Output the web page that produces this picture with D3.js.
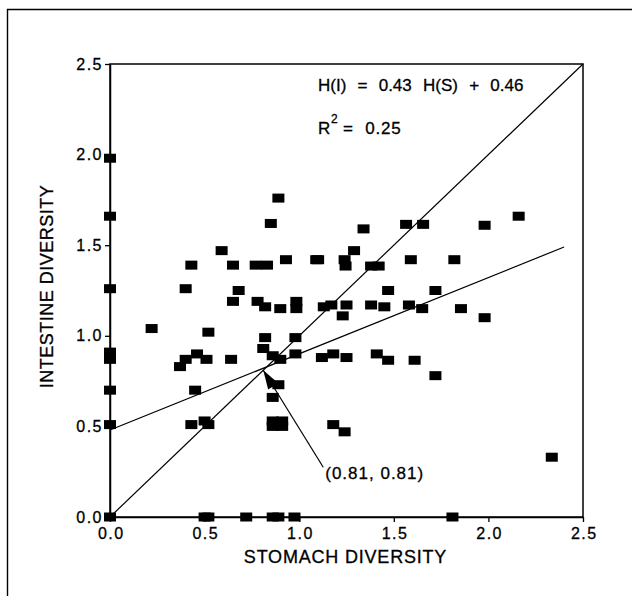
<!DOCTYPE html>
<html>
<head>
<meta charset="utf-8">
<script src="https://cdn.jsdelivr.net/npm/d3@7"></script>
<style>
  html, body { margin: 0; padding: 0; background: #fff; }
  svg { display: block; }
  text { font-family: "Liberation Sans", Arial, Helvetica, sans-serif; fill: #000; stroke: #000; stroke-width: 0.3px; }
</style>
</head>
<body>
<svg id="chart" width="632" height="596"></svg>
<script>
// ---- data ----
const stomach = [
  0, 0, 0, 0, 0, 0, 0, 0,
  0.50, 0.52, 0.72, 0.86, 0.89, 0.975, 1.81,
  0.89, 0.85, 0.59, 0.43, 0.65, 0.77, 0.83, 0.93, 1.09,
  0.40, 0.68, 0.65, 0.78, 0.82, 0.90, 0.985, 0.985,
  0.22, 0.52, 0.82, 0.98,
  0.37, 0.40, 0.46, 0.51, 0.64,
  0.81, 0.86, 0.90, 0.98,
  0.89, 0.86, 0.45,
  0.43, 0.50, 0.52,
  0.86, 0.91, 0.86, 0.91,
  1.34, 1.565, 1.655, 1.98, 2.16,
  1.29, 1.10, 1.24, 1.245, 1.38, 1.42, 1.59, 1.82,
  1.47, 1.72,
  1.13, 1.17, 1.25, 1.23, 1.38, 1.45, 1.58, 1.65, 1.855, 1.98,
  1.12, 1.18, 1.25, 1.41, 1.47, 1.61, 1.72,
  1.18, 1.24, 2.335
];
const intestine = [
  1.98, 1.66, 1.26, 0.91, 0.87, 0.70, 0.51, 0.0,
  0, 0, 0, 0, 0, 0, 0,
  1.76, 1.62, 1.47, 1.39, 1.39, 1.39, 1.39, 1.42, 1.42,
  1.26, 1.25, 1.19, 1.19, 1.16, 1.15, 1.19, 1.15,
  1.04, 1.02, 0.99, 0.99,
  0.83, 0.87, 0.90, 0.87, 0.87,
  0.93, 0.89, 0.87, 0.90,
  0.73, 0.66, 0.70,
  0.51, 0.53, 0.51,
  0.53, 0.53, 0.50, 0.50,
  1.59, 1.615, 1.615, 1.61, 1.66,
  1.47, 1.42, 1.42, 1.385, 1.385, 1.385, 1.42, 1.42,
  1.25, 1.25,
  1.16, 1.17, 1.17, 1.11, 1.17, 1.16, 1.17, 1.15, 1.15, 1.10,
  0.88, 0.90, 0.88, 0.90, 0.865, 0.865, 0.78,
  0.51, 0.47, 0.33
];
const tickValues = [0, 0.5, 1.0, 1.5, 2.0, 2.5];
const tickLabels = ["0.0", "0.5", "1.0", "1.5", "2.0", "2.5"];
const identityLine = [[0, 0], [2.5, 2.5]];
const regressionLine = [[0, 0.48], [2.4, 1.49]];
const equationText = "H(I) = 0.43 H(S) + 0.46";
const r2Value = "= 0.25";
const meanPoint = [0.81, 0.81];
const meanLabel = "(0.81, 0.81)";
const xTitle = "STOMACH DIVERSITY";
const yTitle = "INTESTINE DIVERSITY";

// ---- layout ----
const svg = d3.select("#chart");
svg.append("rect").attr("width", 632).attr("height", 596).attr("fill", "#fff");

// outer frame (only top & left visible)
svg.append("path")
  .attr("d", "M7.5,596 L7.5,9.5 L632,9.5")
  .attr("fill", "none").attr("stroke", "#000").attr("stroke-width", 1.4);

const L = 110, R = 583, T = 64, B = 517;
const x = d3.scaleLinear().domain([0, 2.5]).range([L, R]);
const y = d3.scaleLinear().domain([0, 2.5]).range([B, T]);

// plot box
svg.append("rect")
  .attr("x", L).attr("y", T).attr("width", R - L).attr("height", B - T)
  .attr("fill", "none").attr("stroke", "#000").attr("stroke-width", 1.5);

const fmt = (d, i) => tickLabels[i];

const xAxis = svg.append("g")
  .attr("transform", `translate(0,${B})`)
  .call(d3.axisBottom(x).tickValues(tickValues).tickFormat(fmt).tickSize(5).tickPadding(6).tickSizeOuter(0));
const yAxis = svg.append("g")
  .attr("transform", `translate(${L},0)`)
  .call(d3.axisLeft(y).tickValues(tickValues).tickFormat(fmt).tickSize(5).tickPadding(2).tickSizeOuter(0));

[xAxis, yAxis].forEach(g => {
  g.select(".domain").attr("stroke", "#000").attr("stroke-width", 1.5);
  g.selectAll(".tick line").attr("stroke", "#000").attr("stroke-width", 1.3);
  g.selectAll(".tick text")
    .attr("font-family", "Liberation Sans, Arial, sans-serif")
    .attr("font-size", 16)
    .attr("letter-spacing", "1.5px")
    .attr("fill", "#000");
});
xAxis.selectAll(".tick text").attr("dx", "0.75px");

// lines
const line = d3.line().x(d => x(d[0])).y(d => y(d[1]));
svg.append("path").attr("d", line(identityLine))
  .attr("fill", "none").attr("stroke", "#000").attr("stroke-width", 1.2);
svg.append("path").attr("d", line(regressionLine))
  .attr("fill", "none").attr("stroke", "#000").attr("stroke-width", 1.2);

// points
const mw = 12, mh = 9;
svg.append("g").selectAll("rect")
  .data(stomach.map((s, i) => [s, intestine[i]]))
  .join("rect")
  .attr("x", d => x(d[0]) - mw / 2)
  .attr("y", d => y(d[1]) - mh / 2)
  .attr("width", mw).attr("height", mh)
  .attr("fill", "#000");

// annotation arrow
const tip = [x(meanPoint[0]), y(meanPoint[1])];
const tail = [tip[0] + 60, tip[1] + 97];
svg.append("line")
  .attr("x1", tip[0]).attr("y1", tip[1]).attr("x2", tail[0]).attr("y2", tail[1])
  .attr("stroke", "#000").attr("stroke-width", 1.2);
{
  const dx = tail[0] - tip[0], dy = tail[1] - tip[1];
  const len = Math.hypot(dx, dy);
  const ux = dx / len, uy = dy / len;
  const hl = 19, hw = 6;
  const bx = tip[0] + ux * hl, by = tip[1] + uy * hl;
  svg.append("path")
    .attr("d", `M${tip[0]},${tip[1]} L${bx - uy * hw},${by + ux * hw} L${bx + uy * hw},${by - ux * hw} Z`)
    .attr("fill", "#000");
}
svg.append("text")
  .attr("x", tail[0] + 2).attr("y", tail[1] + 12)
  .attr("font-size", 17).attr("letter-spacing", "1px")
  .text(meanLabel);

// equation
svg.append("text")
  .attr("x", 318).attr("y", 91)
  .attr("font-size", 17).attr("word-spacing", "6.5px")
  .text(equationText);
svg.append("text").attr("x", 318).attr("y", 134).attr("font-size", 17).text("R");
svg.append("text").attr("x", 331).attr("y", 123).attr("font-size", 12).text("2");
svg.append("text")
  .attr("x", 343).attr("y", 134)
  .attr("font-size", 17).attr("word-spacing", "6px").attr("letter-spacing", "0.8px")
  .text(r2Value);

// axis titles
svg.append("text")
  .attr("x", (L + R) / 2 - 1).attr("y", 563)
  .attr("text-anchor", "middle")
  .attr("font-size", 18).attr("letter-spacing", "0.8px")
  .text(xTitle);
svg.append("text")
  .attr("transform", `translate(53,${(T + B) / 2 - 4}) rotate(-90)`)
  .attr("text-anchor", "middle")
  .attr("font-size", 18).attr("letter-spacing", "0.5px")
  .text(yTitle);
</script>
</body>
</html>
